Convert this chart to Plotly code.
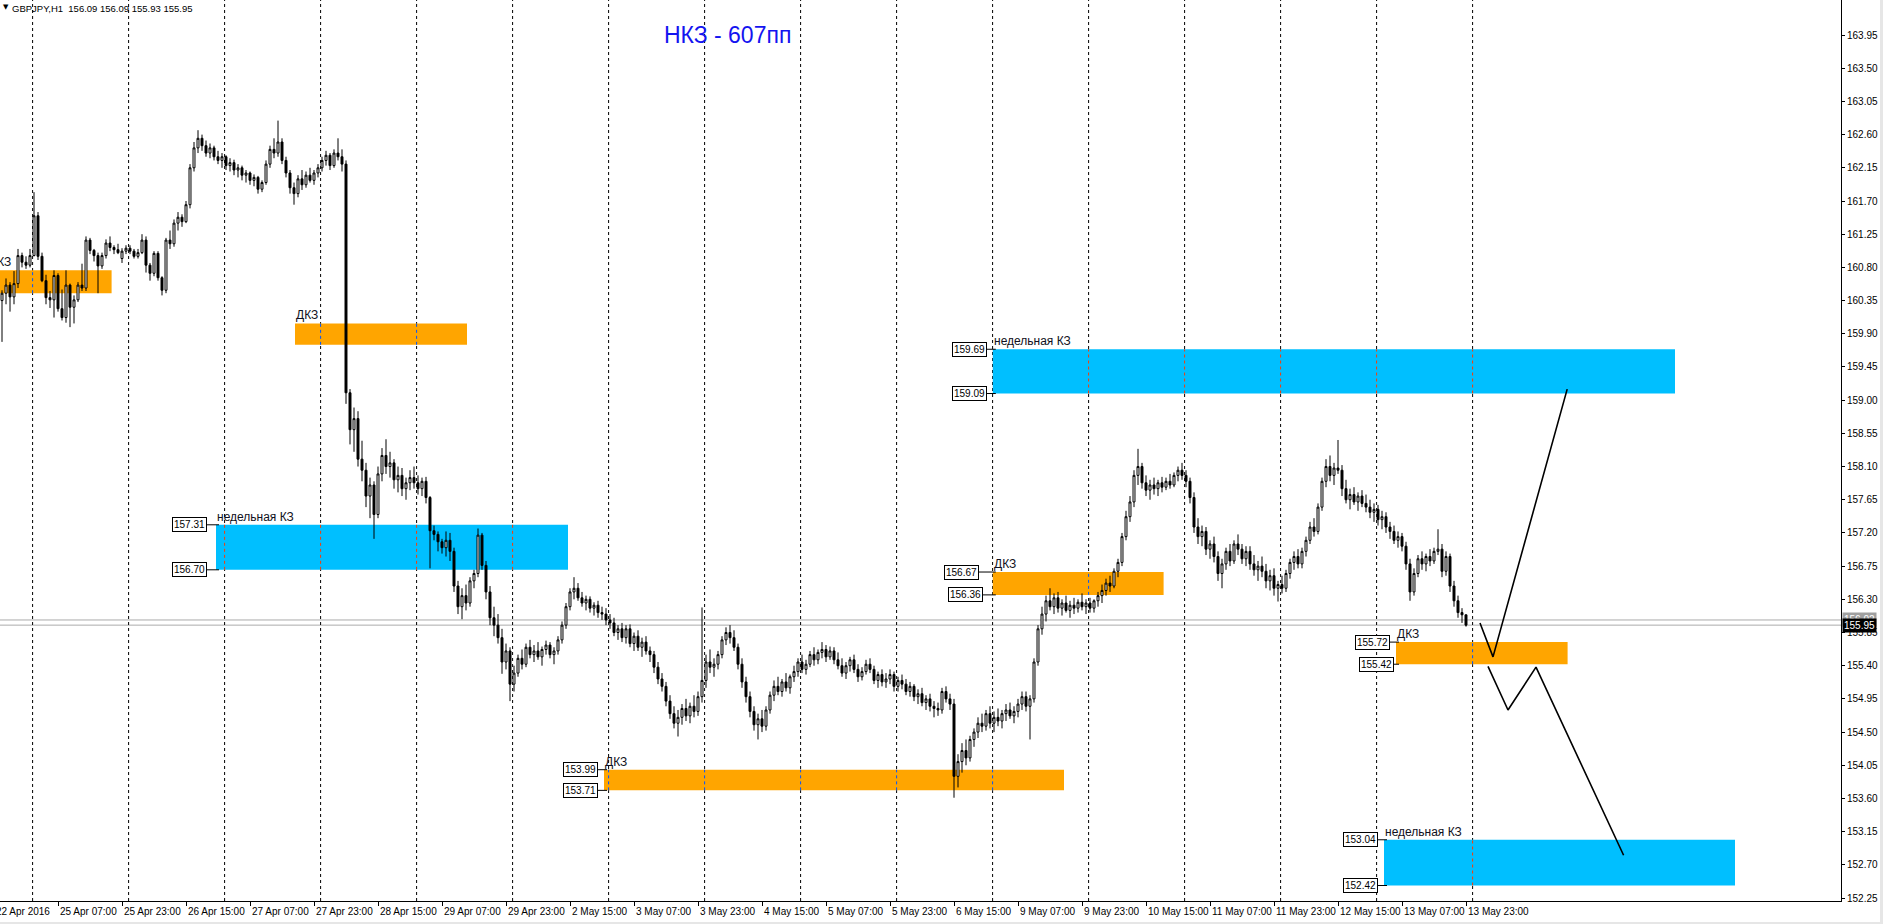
import plotly.graph_objects as go

# GBPJPY H1. Bar 0 = 22 Apr 2016 14:00, weekends skipped, 24 bars per day.
opens = [
    160.45, 160.40, 160.30, 160.35, 160.45, 160.56, 160.40, 160.58, 160.96, 160.87,
    160.83, 160.96, 161.50, 160.95, 160.62, 160.39, 160.36, 160.69, 160.24, 160.12, 160.56, 160.26, 160.36, 160.56, 160.52, 161.17, 161.03, 160.96, 160.82, 160.96, 161.13, 161.07, 161.04, 160.92,
    161.02, 161.06, 161.02, 160.95, 161.00, 161.17, 160.83, 160.72, 160.99, 160.66, 160.49, 161.17, 161.12, 161.40, 161.48, 161.42, 161.65, 162.15, 162.42, 162.55, 162.45, 162.35, 162.42, 162.30,
    162.25, 162.30, 162.18, 162.22, 162.12, 162.15, 162.05, 162.08, 161.98, 162.02, 161.86, 161.95, 162.20, 162.40, 162.35, 162.50, 162.25, 162.08, 161.88, 161.80, 162.00, 161.92, 162.05, 161.98,
    162.08, 162.15, 162.25, 162.32, 162.18, 162.35, 162.30, 162.20, 159.10, 158.60, 158.75, 158.20, 158.05, 157.70, 157.85, 157.45, 158.00, 158.25, 158.10, 158.15, 157.92, 157.98, 157.80, 157.88,
    157.95, 157.88, 157.80, 157.90, 157.68, 157.23, 157.18, 157.08, 157.00, 157.10, 156.95, 156.48, 156.20, 156.35, 156.25, 156.55, 156.65, 157.17, 156.76, 156.40, 156.05, 155.95, 155.78, 155.45,
    155.60, 155.15, 155.30, 155.50, 155.42, 155.65, 155.55, 155.60, 155.52, 155.62, 155.68, 155.55, 155.60, 155.75, 155.95, 156.20, 156.40, 156.45, 156.32, 156.25, 156.30, 156.18, 156.22, 156.12,
    156.10, 156.02, 155.98, 155.85, 155.90, 155.78, 155.90, 155.70, 155.80, 155.65, 155.72, 155.60, 155.55, 155.38, 155.22, 155.12, 154.92, 154.75, 154.62, 154.70, 154.82, 154.72, 154.85, 154.78,
    154.98, 155.20, 155.45, 155.38, 155.42, 155.55, 155.75, 155.85, 155.78, 155.65, 155.42, 155.18, 154.98, 154.78, 154.60, 154.68, 154.58, 154.80, 155.00, 155.12, 155.05, 155.18, 155.10, 155.25,
    155.32, 155.45, 155.35, 155.42, 155.55, 155.48, 155.58, 155.62, 155.52, 155.60, 155.48, 155.40, 155.30, 155.40, 155.48, 155.35, 155.25, 155.32, 155.42, 155.35, 155.20, 155.28, 155.18, 155.22,
    155.28, 155.12, 155.20, 155.15, 155.05, 155.12, 154.98, 155.02, 154.90, 154.95, 154.85, 154.82, 154.80, 155.05, 154.95, 154.88, 153.90, 154.10, 154.25, 154.15, 154.40, 154.50, 154.62, 154.58,
    154.75, 154.62, 154.70, 154.65, 154.75, 154.80, 154.72, 154.78, 154.88, 154.98, 154.85, 154.95, 155.45, 155.90, 156.10, 156.28, 156.20, 156.32, 156.18, 156.25, 156.15, 156.22, 156.18, 156.26,
    156.20, 156.25, 156.18, 156.28, 156.35, 156.42, 156.52, 156.48, 156.68, 156.80, 157.15, 157.42, 157.62, 157.98, 158.10, 157.88, 157.78, 157.85, 157.80, 157.88, 157.82, 157.90, 157.85, 157.98,
    158.05, 157.98, 157.90, 157.68, 157.28, 157.15, 157.22, 156.98, 157.05, 156.88, 156.65, 156.78, 156.95, 156.82, 157.05, 156.98, 156.85, 156.95, 156.78, 156.70, 156.75, 156.68, 156.55, 156.62,
    156.45, 156.50, 156.45, 156.65, 156.80, 156.88, 156.78, 156.95, 157.10, 157.28, 157.22, 157.55, 157.90, 158.10, 157.98, 158.08, 158.05, 157.80, 157.65, 157.72, 157.62, 157.70, 157.60, 157.55,
    157.48, 157.52, 157.38, 157.42, 157.28, 157.22, 157.10, 157.15, 157.02, 156.78, 156.40, 156.65, 156.85, 156.78, 156.88, 156.82, 156.95, 156.98, 156.68, 156.88, 156.48, 156.28, 156.12, 156.09,
]
highs = [
    160.55, 160.48, 160.42, 160.49, 160.65, 160.60, 160.75, 161.05, 161.00, 160.95,
    161.05, 161.82, 161.55, 161.00, 160.70, 160.48, 160.76, 160.72, 160.50, 160.76, 160.58, 160.42, 160.60, 160.85, 161.22, 161.20, 161.05, 161.00, 161.00, 161.18, 161.22, 161.10, 161.12, 161.06,
    161.10, 161.10, 161.05, 161.05, 161.25, 161.22, 160.86, 161.02, 161.02, 160.68, 161.20, 161.30, 161.45, 161.55, 161.52, 161.70, 162.20, 162.50, 162.66, 162.60, 162.52, 162.48, 162.45, 162.38,
    162.35, 162.32, 162.28, 162.26, 162.20, 162.18, 162.12, 162.10, 162.06, 162.04, 161.98, 162.25, 162.45, 162.55, 162.79, 162.55, 162.30, 162.12, 161.95, 162.05, 162.12, 162.10, 162.15, 162.12,
    162.20, 162.30, 162.38, 162.35, 162.40, 162.55, 162.40, 162.25, 159.15, 158.90, 158.85, 158.45, 158.15, 157.95, 157.90, 158.10, 158.35, 158.47, 158.30, 158.20, 158.10, 158.08, 157.95, 158.05,
    158.10, 157.98, 157.95, 157.96, 157.70, 157.30, 157.22, 157.12, 157.22, 157.20, 157.00, 156.55, 156.45, 156.50, 156.60, 156.70, 157.26, 157.20, 156.82, 156.48, 156.20, 156.10, 155.90, 155.70,
    155.65, 155.40, 155.55, 155.62, 155.70, 155.75, 155.68, 155.72, 155.66, 155.74, 155.72, 155.65, 155.80, 156.00, 156.25, 156.45, 156.60, 156.52, 156.40, 156.35, 156.34, 156.26, 156.28, 156.20,
    156.18, 156.10, 156.05, 155.95, 155.98, 155.95, 155.96, 155.85, 155.88, 155.78, 155.80, 155.66, 155.60, 155.45, 155.30, 155.18, 155.00, 154.85, 154.80, 154.88, 154.95, 154.90, 155.00, 155.05,
    156.19, 155.55, 155.62, 155.50, 155.60, 155.80, 155.92, 155.95, 155.88, 155.70, 155.50, 155.25, 155.05, 154.85, 154.75, 154.80, 154.85, 155.05, 155.20, 155.25, 155.22, 155.30, 155.28, 155.40,
    155.50, 155.55, 155.48, 155.60, 155.65, 155.62, 155.72, 155.68, 155.66, 155.65, 155.58, 155.50, 155.45, 155.52, 155.55, 155.42, 155.38, 155.48, 155.50, 155.40, 155.32, 155.35, 155.30, 155.35,
    155.32, 155.25, 155.28, 155.22, 155.18, 155.15, 155.08, 155.10, 155.00, 155.02, 154.92, 154.90, 155.10, 155.12, 155.02, 154.95, 154.20, 154.35, 154.40, 154.45, 154.55, 154.70, 154.75, 154.80,
    154.85, 154.78, 154.82, 154.80, 154.88, 154.90, 154.85, 154.95, 155.05, 155.05, 155.00, 155.50, 155.95, 156.20, 156.35, 156.45, 156.38, 156.40, 156.30, 156.35, 156.28, 156.32, 156.30, 156.38,
    156.30, 156.32, 156.30, 156.40, 156.50, 156.58, 156.62, 156.72, 156.85, 157.20, 157.50, 157.70, 158.05, 158.34, 158.15, 157.98, 157.92, 157.95, 157.92, 157.96, 157.95, 158.00, 158.02, 158.10,
    158.15, 158.05, 157.95, 157.75, 157.40, 157.30, 157.28, 157.10, 157.15, 156.95, 156.85, 157.00, 157.05, 157.10, 157.18, 157.05, 157.02, 157.02, 156.90, 156.82, 156.88, 156.78, 156.70, 156.72,
    156.55, 156.62, 156.70, 156.85, 156.95, 156.98, 157.00, 157.15, 157.35, 157.40, 157.60, 157.95, 158.20, 158.25, 158.15, 158.46, 158.12, 157.92, 157.80, 157.82, 157.75, 157.78, 157.72, 157.65,
    157.60, 157.58, 157.50, 157.48, 157.35, 157.30, 157.22, 157.20, 157.08, 156.85, 156.72, 156.90, 156.95, 156.92, 156.98, 157.00, 157.25, 157.05, 156.95, 156.92, 156.55, 156.35, 156.18, 156.09,
]
lows = [
    160.32, 160.22, 160.25, 159.79, 160.30, 160.20, 160.30, 160.52, 160.80, 160.78,
    160.80, 160.95, 160.90, 160.60, 160.30, 160.25, 160.12, 160.20, 160.08, 160.05, 159.99, 160.04, 160.33, 160.48, 160.48, 160.98, 160.88, 160.45, 160.78, 160.92, 161.02, 160.98, 160.98, 160.86,
    160.98, 160.98, 160.92, 160.92, 160.98, 160.73, 160.62, 160.68, 160.62, 160.42, 160.45, 161.05, 161.08, 161.30, 161.35, 161.40, 161.60, 162.10, 162.35, 162.38, 162.30, 162.28, 162.25, 162.20,
    162.15, 162.12, 162.10, 162.05, 162.02, 161.98, 161.95, 161.92, 161.90, 161.80, 161.82, 161.92, 162.15, 162.28, 162.30, 162.20, 162.02, 161.80, 161.65, 161.75, 161.85, 161.88, 161.95, 161.92,
    162.02, 162.10, 162.18, 162.12, 162.15, 162.25, 162.10, 158.95, 158.40, 158.30, 158.10, 157.90, 157.55, 157.40, 157.12, 157.40, 157.90, 158.00, 157.95, 157.80, 157.75, 157.70, 157.65, 157.78,
    157.80, 157.72, 157.70, 157.60, 156.72, 157.10, 156.95, 156.92, 156.88, 156.82, 156.40, 156.10, 156.03, 156.15, 156.20, 156.45, 156.60, 156.70, 156.30, 155.95, 155.80, 155.70, 155.29, 155.35,
    154.92, 155.05, 155.25, 155.35, 155.38, 155.50, 155.45, 155.48, 155.40, 155.55, 155.50, 155.42, 155.55, 155.70, 155.90, 156.15, 156.30, 156.28, 156.20, 156.15, 156.12, 156.08, 156.05, 156.02,
    155.95, 155.90, 155.80, 155.75, 155.72, 155.70, 155.65, 155.60, 155.60, 155.52, 155.55, 155.45, 155.30, 155.15, 155.05, 154.85, 154.68, 154.55, 154.44, 154.60, 154.65, 154.62, 154.70, 154.72,
    154.90, 155.10, 155.30, 155.25, 155.35, 155.50, 155.68, 155.70, 155.60, 155.35, 155.10, 154.90, 154.70, 154.52, 154.40, 154.50, 154.52, 154.75, 154.92, 155.00, 154.98, 155.05, 155.02, 155.18,
    155.25, 155.30, 155.28, 155.38, 155.40, 155.42, 155.50, 155.45, 155.48, 155.42, 155.35, 155.25, 155.22, 155.32, 155.30, 155.18, 155.20, 155.28, 155.30, 155.15, 155.10, 155.12, 155.10, 155.15,
    155.05, 155.05, 155.08, 155.00, 154.98, 154.92, 154.88, 154.85, 154.80, 154.78, 154.70, 154.72, 154.75, 154.90, 154.80, 153.61, 153.75, 153.95, 154.05, 154.10, 154.30, 154.42, 154.50, 154.52,
    154.55, 154.50, 154.58, 154.55, 154.65, 154.68, 154.62, 154.70, 154.80, 154.78, 154.40, 154.90, 155.40, 155.82, 156.00, 156.15, 156.10, 156.12, 156.08, 156.12, 156.05, 156.10, 156.12, 156.15,
    156.10, 156.12, 156.12, 156.20, 156.25, 156.35, 156.40, 156.45, 156.60, 156.75, 157.10, 157.35, 157.55, 157.85, 157.80, 157.70, 157.65, 157.72, 157.70, 157.75, 157.78, 157.80, 157.82, 157.90,
    157.92, 157.82, 157.60, 157.20, 157.05, 157.02, 156.90, 156.85, 156.80, 156.55, 156.45, 156.70, 156.75, 156.78, 156.90, 156.78, 156.75, 156.70, 156.62, 156.55, 156.60, 156.45, 156.42, 156.35,
    156.27, 156.38, 156.40, 156.58, 156.70, 156.72, 156.72, 156.88, 157.05, 157.15, 157.18, 157.50, 157.82, 157.90, 157.85, 158.00, 157.70, 157.60, 157.52, 157.58, 157.50, 157.55, 157.48, 157.40,
    157.35, 157.30, 157.25, 157.20, 157.12, 157.05, 157.00, 156.95, 156.70, 156.28, 156.35, 156.60, 156.70, 156.68, 156.75, 156.78, 156.90, 156.60, 156.62, 156.40, 156.20, 156.05, 155.98, 155.93,
]
closes = [
    160.40, 160.30, 160.35, 160.45, 160.56, 160.40, 160.58, 160.96, 160.87, 160.83,
    160.96, 161.50, 160.95, 160.62, 160.39, 160.36, 160.69, 160.24, 160.12, 160.56, 160.26, 160.36, 160.56, 160.52, 161.17, 161.03, 160.96, 160.82, 160.96, 161.13, 161.07, 161.04, 161.00, 161.02,
    161.06, 161.02, 160.95, 161.00, 161.17, 160.83, 160.72, 160.99, 160.66, 160.49, 161.17, 161.12, 161.40, 161.48, 161.42, 161.65, 162.15, 162.42, 162.55, 162.45, 162.35, 162.42, 162.30, 162.25,
    162.30, 162.18, 162.22, 162.12, 162.15, 162.05, 162.08, 161.98, 162.02, 161.86, 161.95, 162.20, 162.40, 162.35, 162.50, 162.25, 162.08, 161.88, 161.80, 162.00, 161.92, 162.05, 161.98, 162.08,
    162.15, 162.25, 162.32, 162.18, 162.35, 162.30, 162.20, 159.10, 158.60, 158.75, 158.20, 158.05, 157.70, 157.85, 157.45, 158.00, 158.25, 158.10, 158.15, 157.92, 157.98, 157.80, 157.88, 157.95,
    157.88, 157.80, 157.90, 157.68, 157.23, 157.18, 157.08, 157.00, 157.10, 156.95, 156.48, 156.20, 156.35, 156.25, 156.55, 156.65, 157.17, 156.76, 156.40, 156.05, 155.95, 155.78, 155.45, 155.60,
    155.15, 155.30, 155.50, 155.42, 155.65, 155.55, 155.60, 155.52, 155.62, 155.68, 155.55, 155.60, 155.75, 155.95, 156.20, 156.40, 156.45, 156.32, 156.25, 156.30, 156.18, 156.22, 156.12, 156.10,
    156.02, 155.98, 155.85, 155.90, 155.78, 155.90, 155.70, 155.80, 155.65, 155.72, 155.60, 155.55, 155.38, 155.22, 155.12, 154.92, 154.75, 154.62, 154.70, 154.82, 154.72, 154.85, 154.78, 154.98,
    155.20, 155.45, 155.38, 155.42, 155.55, 155.75, 155.85, 155.78, 155.65, 155.42, 155.18, 154.98, 154.78, 154.60, 154.68, 154.58, 154.80, 155.00, 155.12, 155.05, 155.18, 155.10, 155.25, 155.32,
    155.45, 155.35, 155.42, 155.55, 155.48, 155.58, 155.62, 155.52, 155.60, 155.48, 155.40, 155.30, 155.40, 155.48, 155.35, 155.25, 155.32, 155.42, 155.35, 155.20, 155.28, 155.18, 155.22, 155.28,
    155.12, 155.20, 155.15, 155.05, 155.12, 154.98, 155.02, 154.90, 154.95, 154.85, 154.82, 154.80, 155.05, 154.95, 154.88, 153.90, 154.10, 154.25, 154.15, 154.40, 154.50, 154.62, 154.58, 154.75,
    154.62, 154.70, 154.65, 154.75, 154.80, 154.72, 154.78, 154.88, 154.98, 154.85, 154.95, 155.45, 155.90, 156.10, 156.28, 156.20, 156.32, 156.18, 156.25, 156.15, 156.22, 156.18, 156.26, 156.20,
    156.25, 156.18, 156.28, 156.35, 156.42, 156.52, 156.48, 156.68, 156.80, 157.15, 157.42, 157.62, 157.98, 158.10, 157.88, 157.78, 157.85, 157.80, 157.88, 157.82, 157.90, 157.85, 157.98, 158.05,
    157.98, 157.90, 157.68, 157.28, 157.15, 157.22, 156.98, 157.05, 156.88, 156.65, 156.78, 156.95, 156.82, 157.05, 156.98, 156.85, 156.95, 156.78, 156.70, 156.75, 156.68, 156.55, 156.62, 156.45,
    156.50, 156.45, 156.65, 156.80, 156.88, 156.78, 156.95, 157.10, 157.28, 157.22, 157.55, 157.90, 158.10, 157.98, 158.08, 158.05, 157.80, 157.65, 157.72, 157.62, 157.70, 157.60, 157.55, 157.48,
    157.52, 157.38, 157.42, 157.28, 157.22, 157.10, 157.15, 157.02, 156.78, 156.40, 156.65, 156.85, 156.78, 156.88, 156.82, 156.95, 156.98, 156.68, 156.88, 156.48, 156.28, 156.12, 156.09, 155.95,
]
assert len(opens) == len(highs) == len(lows) == len(closes) == 370

# bottom time scale: one label every 16 bars
tick_bars = [1, 17, 33, 49, 65, 81, 97, 113, 129, 145, 161, 177, 193, 209, 225, 241,
             257, 273, 289, 305, 321, 337, 353, 369]
tick_labels = ["22 Apr 2016", "25 Apr 07:00", "25 Apr 23:00", "26 Apr 15:00", "27 Apr 07:00",
               "27 Apr 23:00", "28 Apr 15:00", "29 Apr 07:00", "29 Apr 23:00", "2 May 15:00",
               "3 May 07:00", "3 May 23:00", "4 May 15:00", "5 May 07:00", "5 May 23:00",
               "6 May 15:00", "9 May 07:00", "9 May 23:00", "10 May 15:00", "11 May 07:00",
               "11 May 23:00", "12 May 15:00", "13 May 07:00", "13 May 23:00"]
# first bar of each day (period separators)
day_start_bars = [10, 34, 58, 82, 106, 130, 154, 178, 202, 226, 250, 274, 298, 322, 346, 370]

price_ticks = [152.25, 152.70, 153.15, 153.60, 154.05, 154.50, 154.95, 155.40, 155.85,
               156.30, 156.75, 157.20, 157.65, 158.10, 158.55, 159.00, 159.45, 159.90,
               160.35, 160.80, 161.25, 161.70, 162.15, 162.60, 163.05, 163.50, 163.95]

# supply / demand zones
zone_top = [160.76, 160.04, 157.31, 159.69, 156.67, 153.99, 155.72, 153.04]
zone_bottom = [160.45, 159.75, 156.70, 159.09, 156.36, 153.71, 155.42, 152.42]
zone_start = [-0.5, 76.25, 56.5, 250.7, 250.7, 153.5, 351.5, 348.5]
zone_end = [30.4, 119.25, 144.5, 421.25, 293.4, 268.5, 394.4, 436.25]
zone_kind = ["daily", "daily", "weekly", "weekly", "daily", "daily", "daily", "weekly"]
zone_text = ["ДКЗ", "ДКЗ", "недельная КЗ", "недельная КЗ", "ДКЗ", "ДКЗ", "ДКЗ", "недельная КЗ"]
zone_priced = [False, False, True, True, True, True, True, True]
label_gap_top = [0, 0, 9, 6, 14, 6, 6, 6]
label_gap_bottom = [0, 0, 9, 6, 10, 6, 2, 6]

# hand-drawn forecast
forecast_up_bars = [372.5, 375.75, 394.3]
forecast_up_prices = [155.98, 155.52, 159.15]
forecast_down_bars = [374.5, 379.5, 386.5, 408.4]
forecast_down_prices = [155.39, 154.80, 155.38, 152.83]

bid_price = 155.95
ask_price = 156.02

X0, X1 = 2.5, 462.75
Y0, Y1 = 152.21, 164.425
PX_PER_BAR = 1841 / (X1 - X0)
FONT = "Liberation Sans, Arial, sans-serif"
BLUE = "#00BFFF"
ORANGE = "#FFA500"


def paper_x(bar):
    return (bar - X0) / (X1 - X0)


fig = go.Figure()

fig.add_trace(
    go.Candlestick(
        x=list(range(len(closes))),
        open=opens,
        high=highs,
        low=lows,
        close=closes,
        increasing=dict(line=dict(color="#000000", width=1), fillcolor="#FFFFFF"),
        decreasing=dict(line=dict(color="#000000", width=1), fillcolor="#000000"),
        whiskerwidth=0,
        hoverinfo="skip",
        showlegend=False,
    )
)

for bars, prices in ((forecast_up_bars, forecast_up_prices), (forecast_down_bars, forecast_down_prices)):
    fig.add_trace(
        go.Scatter(x=bars, y=prices, mode="lines", line=dict(color="#000000", width=1.6),
                   hoverinfo="skip", showlegend=False)
    )

shapes = []
annotations = []

# zones
for i in range(len(zone_top)):
    color = BLUE if zone_kind[i] == "weekly" else ORANGE
    shapes.append(dict(type="rect", xref="x", yref="y", x0=zone_start[i], x1=zone_end[i],
                       y0=zone_bottom[i], y1=zone_top[i], fillcolor=color, line=dict(width=0),
                       layer="below"))

# price lines
for p in (ask_price, bid_price):
    shapes.append(dict(type="line", xref="paper", yref="y", x0=0, x1=1, y0=p, y1=p,
                       line=dict(color="#ABABAB", width=1), layer="below"))

# day separators, recoloured where they cross a zone
sep_offset = 0.65
for b in day_start_bars:
    sx = b + sep_offset
    shapes.append(dict(type="line", xref="x", yref="paper", x0=sx, x1=sx, y0=0, y1=1,
                       line=dict(color="#000000", width=1, dash="3px,3px"), layer="below"))
    for i in range(len(zone_top)):
        if zone_start[i] < sx < zone_end[i]:
            c = "#FF3A00" if zone_kind[i] == "weekly" else "#0055FF"
            shapes.append(dict(type="line", xref="x", yref="y", x0=sx, x1=sx,
                               y0=zone_bottom[i], y1=zone_top[i],
                               line=dict(color=c, width=1, dash="3px,3px"), layer="below"))

# zone captions and price tags
for i in range(len(zone_top)):
    annotations.append(dict(xref="paper", yref="y", x=paper_x(zone_start[i]), y=zone_top[i],
                            xanchor="left", yanchor="bottom", xshift=-1, yshift=-1,
                            text=zone_text[i], showarrow=False,
                            font=dict(family=FONT, size=12, color="#101020")))
    if not zone_priced[i]:
        continue
    for price, gap in ((zone_top[i], label_gap_top[i]), (zone_bottom[i], label_gap_bottom[i])):
        annotations.append(dict(xref="paper", yref="y", x=paper_x(zone_start[i]), y=price,
                                xanchor="right", yanchor="middle", xshift=-gap,
                                text=f"{price:.2f}", showarrow=False, bgcolor="#FFFFFF",
                                bordercolor="#000000", borderwidth=1, borderpad=1,
                                font=dict(family=FONT, size=10, color="#000000")))
        shapes.append(dict(type="line", xref="x", yref="y",
                           x0=zone_start[i] - gap / PX_PER_BAR, x1=zone_start[i] + 3 / PX_PER_BAR,
                           y0=price, y1=price, line=dict(color="#000000", width=1)))

# time labels (left aligned after their tick)
for b, lab in zip(tick_bars, tick_labels):
    annotations.append(dict(xref="paper", yref="paper", x=paper_x(b), y=0, xanchor="left",
                            yanchor="top", xshift=0, yshift=-3, text=lab, showarrow=False,
                            font=dict(family=FONT, size=10, color="#000000")))

# price scale labels
for v in price_ticks:
    annotations.append(dict(xref="paper", yref="y", x=1, y=v, xanchor="left", yanchor="middle",
                            xshift=4, text=f"{v:.2f}", showarrow=False,
                            font=dict(family=FONT, size=10, color="#000000")))

# current price tags on the scale
annotations.append(dict(xref="paper", yref="y", x=1, y=ask_price, xanchor="left",
                        yanchor="middle", xshift=1, text=f"{ask_price:.2f}", showarrow=False,
                        bgcolor="#A0A0A0", borderpad=1,
                        font=dict(family=FONT, size=10, color="#FFFFFF")))
annotations.append(dict(xref="paper", yref="y", x=1, y=bid_price, xanchor="left",
                        yanchor="middle", xshift=1, text=f"{bid_price:.2f}", showarrow=False,
                        bgcolor="#000000", borderpad=1,
                        font=dict(family=FONT, size=10, color="#FFFFFF")))

# header and title
annotations.append(dict(xref="paper", yref="paper", x=0, y=1, xanchor="left", yanchor="top",
                        xshift=1, yshift=-1, text="▼", showarrow=False,
                        font=dict(family="DejaVu Sans", size=7, color="#000000")))
annotations.append(dict(xref="paper", yref="paper", x=0, y=1, xanchor="left", yanchor="top",
                        xshift=10, yshift=-1,
                        text="GBPJPY,H1  156.09 156.09 155.93 155.95", showarrow=False,
                        font=dict(family=FONT, size=9.5, color="#000000")))
annotations.append(dict(xref="paper", yref="paper", x=662 / 1841, y=1, xanchor="left",
                        yanchor="top", yshift=-20, text="НКЗ - 607пп", showarrow=False,
                        font=dict(family=FONT, size=23, color="#1414F0")))

# light frame strips of the terminal window
shapes.append(dict(type="rect", xref="paper", yref="paper", x0=-0.01, x1=1.03,
                   y0=-23 / 901, y1=-21 / 901, fillcolor="#E6E6E6", line=dict(width=0)))
shapes.append(dict(type="rect", xref="paper", yref="paper", x0=1 + 39 / 1841, x1=1 + 42 / 1841,
                   y0=-23 / 901, y1=1.01, fillcolor="#E6E6E6", line=dict(width=0)))

fig.update_layout(
    width=1883,
    height=924,
    margin=dict(l=0, r=42, t=0, b=23),
    paper_bgcolor="#FFFFFF",
    plot_bgcolor="#FFFFFF",
    font=dict(family=FONT, size=10, color="#000000"),
    showlegend=False,
    shapes=shapes,
    annotations=annotations,
    xaxis=dict(
        range=[X0, X1],
        rangeslider=dict(visible=False),
        showgrid=False,
        zeroline=False,
        showline=True,
        linecolor="#000000",
        linewidth=1,
        mirror=True,
        ticks="outside",
        ticklen=4,
        tickcolor="#000000",
        tickvals=tick_bars,
        showticklabels=False,
    ),
    yaxis=dict(
        range=[Y0, Y1],
        side="right",
        showgrid=False,
        zeroline=False,
        showline=True,
        linecolor="#000000",
        linewidth=1,
        ticks="outside",
        ticklen=3,
        tickcolor="#000000",
        tickvals=price_ticks,
        showticklabels=False,
    ),
)

fig.write_html(
    "out.html",
    config={"displayModeBar": False},
    post_script="document.body.style.margin='0';document.body.style.overflow='hidden';",
)
